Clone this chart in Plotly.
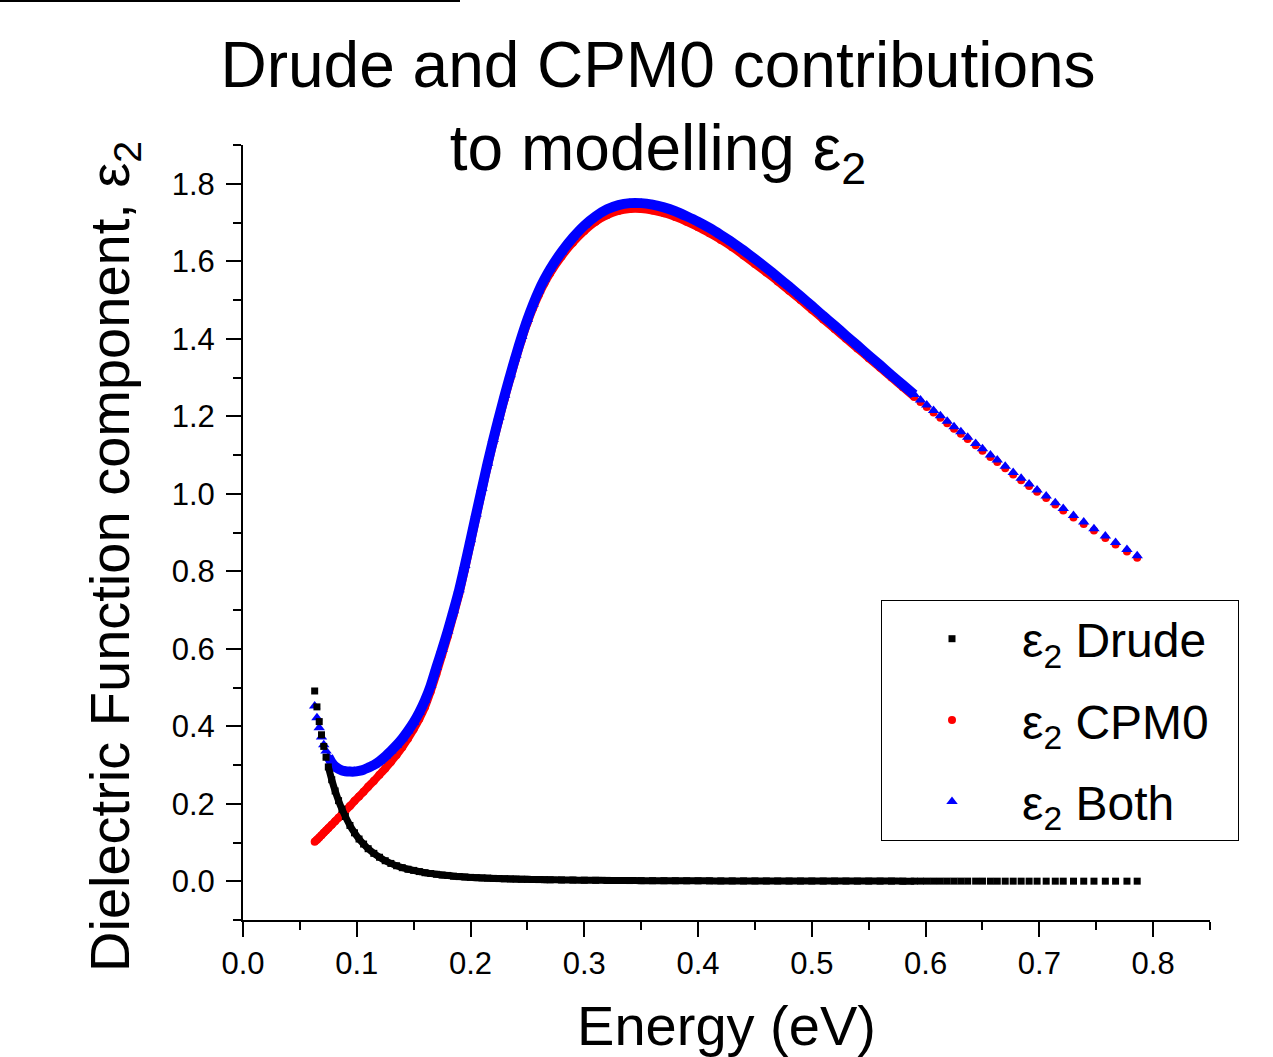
import numpy as np
import plotly.graph_objects as go

# ---------------- data ----------------
energy = [
    0.063, 0.065, 0.067, 0.069, 0.071, 0.073, 0.075, 0.078, 0.081, 0.084,
    0.087, 0.090, 0.094, 0.098, 0.102, 0.106, 0.110, 0.115, 0.120, 0.125,
    0.130, 0.135, 0.140, 0.145, 0.150, 0.155, 0.160, 0.165, 0.170, 0.175,
    0.180, 0.185, 0.190, 0.195, 0.200, 0.205, 0.210, 0.215, 0.220, 0.225,
    0.230, 0.235, 0.240, 0.245, 0.250, 0.255, 0.260, 0.265, 0.270,
    0.280, 0.290, 0.300, 0.310, 0.320, 0.330, 0.340, 0.350, 0.360, 0.370,
    0.380, 0.390, 0.400,
    0.410, 0.420, 0.430, 0.440, 0.450, 0.460, 0.470, 0.480, 0.490, 0.500,
    0.510, 0.520, 0.530, 0.540, 0.550, 0.560, 0.570, 0.580, 0.590,
    0.5955, 0.601, 0.607, 0.613, 0.619, 0.625, 0.631, 0.637, 0.644, 0.650,
    0.657, 0.663, 0.670, 0.677, 0.684, 0.691, 0.698, 0.706, 0.714, 0.721,
    0.730, 0.739, 0.748, 0.758, 0.767, 0.777, 0.786,
]

eps2_drude = [
    0.491, 0.450, 0.412, 0.378, 0.348, 0.320, 0.295, 0.262, 0.233, 0.208,
    0.186, 0.167, 0.144, 0.125, 0.109, 0.096, 0.084, 0.072, 0.062, 0.053,
    0.046, 0.040, 0.035, 0.031, 0.028, 0.025, 0.022, 0.020, 0.018, 0.016,
    0.015, 0.013, 0.012, 0.011, 0.010, 0.0093, 0.0086, 0.0080, 0.0074, 0.0069,
    0.0064, 0.0060, 0.0056, 0.0052, 0.0049, 0.0046, 0.0043, 0.0041, 0.0038,
    0.0034, 0.0030, 0.0027, 0.0024, 0.0022, 0.0020, 0.0018, 0.0016, 0.0015, 0.0014,
    0.0013, 0.0012, 0.0011,
    0.0010, 0.0009, 0.0009, 0.0008, 0.0008, 0.0007, 0.0007, 0.0006, 0.0006, 0.0006,
    0.0005, 0.0005, 0.0005, 0.0004, 0.0004, 0.0004, 0.0004, 0.0003, 0.0003,
    0.0003, 0.0003, 0.0003, 0.0003, 0.0003, 0.0003, 0.0003, 0.0003, 0.0003, 0.0003,
    0.0002, 0.0002, 0.0002, 0.0002, 0.0002, 0.0002, 0.0002, 0.0002, 0.0002, 0.0002,
    0.0002, 0.0002, 0.0002, 0.0002, 0.0002, 0.0002, 0.0002,
]

eps2_cpm0 = [
    0.102, 0.107, 0.113, 0.119, 0.125, 0.131, 0.137, 0.146, 0.155, 0.164,
    0.173, 0.182, 0.194, 0.207, 0.219, 0.231, 0.244, 0.259, 0.275, 0.291,
    0.308, 0.326, 0.346, 0.368, 0.392, 0.419, 0.450, 0.490, 0.535, 0.583,
    0.632, 0.685, 0.740, 0.803, 0.870, 0.937, 1.004, 1.069, 1.130, 1.188,
    1.244, 1.297, 1.348, 1.396, 1.440, 1.479, 1.513, 1.543, 1.569,
    1.612, 1.648, 1.678, 1.702, 1.719, 1.730, 1.735, 1.735, 1.731, 1.724,
    1.714, 1.702, 1.688,
    1.672, 1.655, 1.636, 1.615, 1.593, 1.571, 1.548, 1.524, 1.500, 1.475,
    1.450, 1.425, 1.400, 1.375, 1.350, 1.325, 1.300, 1.275, 1.250,
    1.237, 1.224, 1.210, 1.196, 1.182, 1.168, 1.155, 1.141, 1.125, 1.111,
    1.095, 1.082, 1.066, 1.050, 1.035, 1.020, 1.005, 0.989, 0.972, 0.957,
    0.939, 0.922, 0.905, 0.886, 0.869, 0.851, 0.835,
]

eps2_both = [
    0.452, 0.422, 0.396, 0.372, 0.352, 0.336, 0.322, 0.306, 0.296, 0.290,
    0.286, 0.284, 0.283, 0.283, 0.285, 0.288, 0.293, 0.300, 0.310, 0.322,
    0.336, 0.351, 0.368, 0.388, 0.410, 0.436, 0.467, 0.505, 0.552, 0.598,
    0.646, 0.698, 0.752, 0.815, 0.881, 0.948, 1.014, 1.079, 1.140, 1.198,
    1.254, 1.307, 1.358, 1.406, 1.450, 1.489, 1.524, 1.554, 1.580,
    1.624, 1.661, 1.692, 1.716, 1.734, 1.745, 1.750, 1.750, 1.746, 1.739,
    1.729, 1.716, 1.702,
    1.686, 1.668, 1.649, 1.628, 1.606, 1.583, 1.559, 1.535, 1.510, 1.485,
    1.459, 1.434, 1.408, 1.383, 1.357, 1.332, 1.306, 1.281, 1.256,
    1.242, 1.229, 1.215, 1.201, 1.187, 1.173, 1.160, 1.146, 1.130, 1.116,
    1.100, 1.087, 1.071, 1.055, 1.040, 1.025, 1.010, 0.994, 0.977, 0.962,
    0.944, 0.927, 0.910, 0.891, 0.874, 0.856, 0.840,
]

series_names = ["ε<sub>2</sub> Drude", "ε<sub>2</sub> CPM0", "ε<sub>2</sub> Both"]
x_ticks = [0.0, 0.1, 0.2, 0.3, 0.4, 0.5, 0.6, 0.7, 0.8]
y_ticks = [0.0, 0.2, 0.4, 0.6, 0.8, 1.0, 1.2, 1.4, 1.6, 1.8]

FONT = "Liberation Sans, Arial, sans-serif"
PAD = "\u2002"  # right padding inside the legend box

E = np.array(energy)
series = [
    # name, values, color, symbol, marker size, band width, band start energy, rank
    (series_names[1], np.array(eps2_cpm0), "#ff0000", "circle", 8, 8, 0.0, 2),
    (series_names[2], np.array(eps2_both), "#0000ff", "triangle-up", 10, 10, 0.074, 3),
    (series_names[0], np.array(eps2_drude), "#000000", "square", 7, 7, 0.074, 1),
]

fig = go.Figure()
for name, vals, color, symbol, msize, bw, band_start, rank in series:
    # dense part of the data: markers overlap into a continuous band
    dense = (E <= 0.5905) & (E >= band_start)
    fig.add_trace(go.Scatter(
        x=E[dense], y=vals[dense], mode="lines",
        line=dict(color=color, width=bw, shape="spline", smoothing=0.6),
        showlegend=False, hoverinfo="skip", legendgroup=name,
    ))
    fig.add_trace(go.Scatter(
        x=E, y=vals, mode="markers", name=name + PAD,
        marker=dict(color=color, symbol=symbol, size=msize, line=dict(width=0)),
        legendgroup=name, legendrank=rank,
    ))

axis_common = dict(
    showline=True, linecolor="black", linewidth=2,
    ticks="outside", ticklen=15, tickwidth=2, tickcolor="black",
    showgrid=False, zeroline=False, mirror=False,
    tickfont=dict(family=FONT, size=31, color="black"),
)

fig.update_xaxes(
    range=[0, 0.85], tickvals=x_ticks, ticktext=[f"{v:.1f}" for v in x_ticks],
    minor=dict(tickvals=[0.05, 0.15, 0.25, 0.35, 0.45, 0.55, 0.65, 0.75, 0.85],
               ticklen=8, tickwidth=2, tickcolor="black", ticks="outside"),
    ticklabelstandoff=0,
    title=dict(text="Energy (eV)", font=dict(family=FONT, size=56, color="black"), standoff=26),
    **axis_common,
)
fig.update_yaxes(
    range=[-0.1, 1.9], tickvals=y_ticks, ticktext=[f"{v:.1f}" for v in y_ticks],
    minor=dict(tickvals=[-0.1, 0.1, 0.3, 0.5, 0.7, 0.9, 1.1, 1.3, 1.5, 1.7, 1.9],
               ticklen=8, tickwidth=2, tickcolor="black", ticks="outside"),
    ticklabelstandoff=5,
    **axis_common,
)

fig.update_layout(
    width=1273, height=1057,
    margin=dict(l=243, r=63, t=145, b=137),
    paper_bgcolor="white", plot_bgcolor="white",
    font=dict(family=FONT, color="black"),
    title=dict(
        text="Drude and CPM0 contributions<br>to modelling ε<sub>2</sub>",
        font=dict(family=FONT, size=64, color="black"),
        x=658 / 1273, xanchor="center", xref="container",
        y=1 - 87 / 1057, yanchor="top", yref="container",
    ),
    legend=dict(
        x=(881 - 243) / 967, xanchor="left",
        y=(920 - 600) / 775, yanchor="top",
        bordercolor="black", borderwidth=1, bgcolor="white",
        font=dict(family=FONT, size=48, color="black"),
        itemwidth=130, tracegroupgap=16,
        traceorder="grouped",
    ),
    annotations=[dict(
        text="Dielectric Function component, ε<sub>2</sub>",
        textangle=-90, showarrow=False,
        xref="paper", x=(113 - 243) / 967, xanchor="center",
        yref="paper", y=(920 - 557) / 775, yanchor="middle",
        font=dict(family=FONT, size=56, color="black"),
    )],
    shapes=[dict(
        type="line", xref="paper", yref="paper",
        x0=-243 / 967, x1=(460 - 243) / 967,
        y0=(920 - 1) / 775, y1=(920 - 1) / 775,
        line=dict(color="black", width=2),
    )],
    showlegend=True,
)

fig.write_html("out.html")
